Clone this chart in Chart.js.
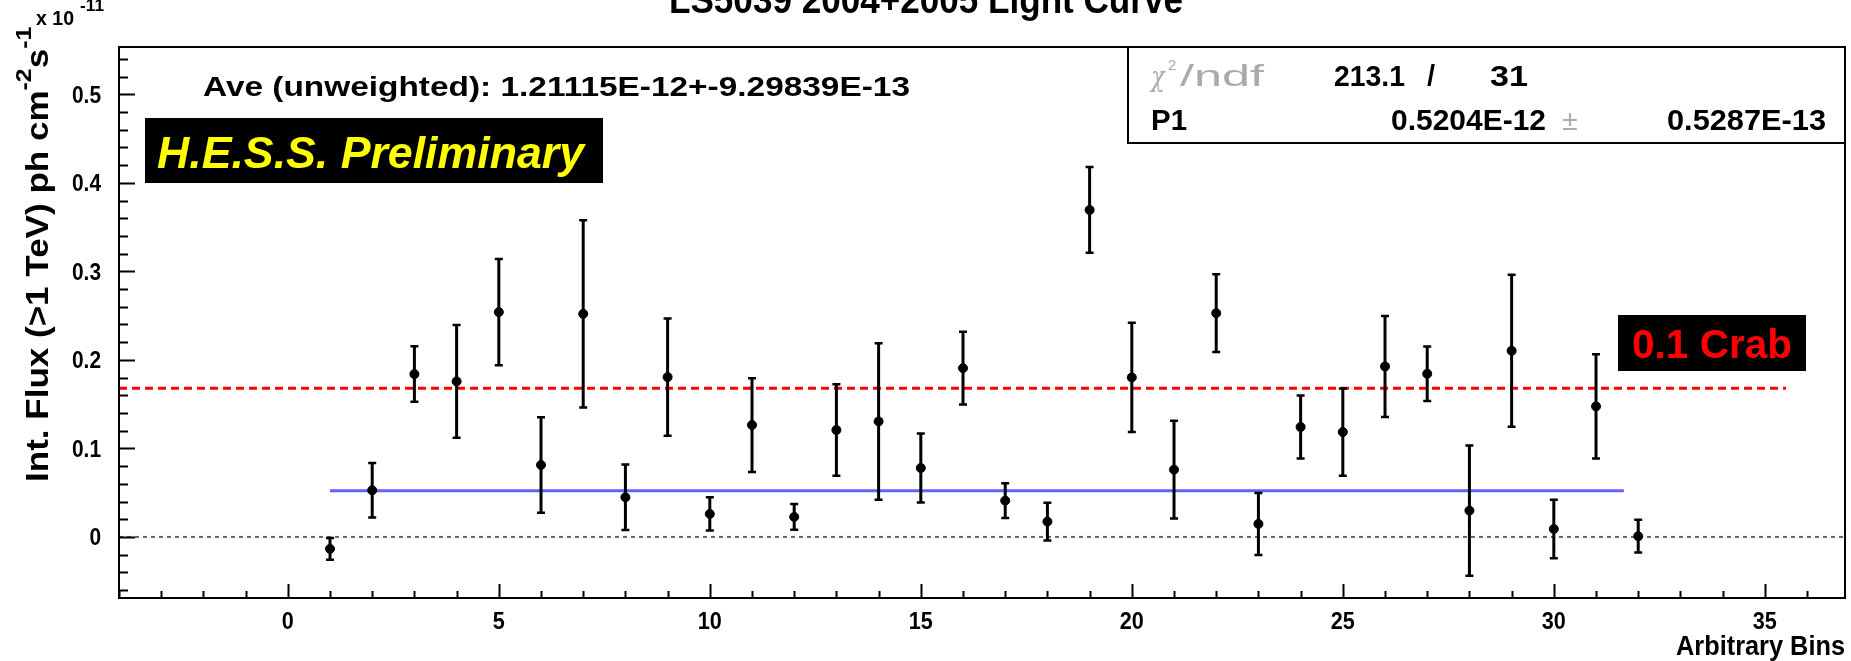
<!DOCTYPE html>
<html><head><meta charset="utf-8">
<script src="https://cdn.jsdelivr.net/npm/chart.js@4/dist/chart.umd.min.js"></script>
<style>html,body{margin:0;padding:0;background:#fff;overflow:hidden}canvas{display:block}</style>
</head><body>
<canvas id="c" width="1851" height="661"></canvas>
<script>
// ---- data (flux in units of 1e-11 ph cm^-2 s^-1) ----
const bins = [1,2,3,4,5,6,7,8,9,10,11,12,13,14,15,16,17,18,19,20,21,22,23,24,25,26,27,28,29,30,31,32];
const flux = [-0.0135,0.0527,0.184,0.1757,0.254,0.0813,0.252,0.0448,0.1806,0.026,0.1264,0.0226,0.1208,0.1305,0.0779,0.1907,0.041,0.0173,0.3694,0.1802,0.076,0.2528,0.0147,0.1242,0.1185,0.1926,0.1843,0.0297,0.2103,0.009,0.1475,0.0008];
const fluxErr = [0.0122,0.0307,0.0314,0.0636,0.060,0.054,0.1057,0.037,0.0662,0.0188,0.053,0.0145,0.0517,0.0884,0.0389,0.0412,0.0196,0.0212,0.0484,0.0617,0.0553,0.044,0.035,0.0355,0.0493,0.057,0.0308,0.0737,0.0858,0.0331,0.059,0.0185];
const xTicks = [0,5,10,15,20,25,30,35];
const yTicks = [0,0.1,0.2,0.3,0.4,0.5];
const xTickLabels = ['0','5','10','15','20','25','30','35'];
const yTickLabels = ['0','0.1','0.2','0.3','0.4','0.5'];
const xRange = [-4, 36.9];
const yRange = [-0.069, 0.5535];
const crabLevel = 0.168, crabX = [-4, 35.5];
const fitLevel = 0.05204, fitX = [1, 31.66];
const zeroX = [-4, 36.9];

const FF = '"Liberation Sans", Arial, Helvetica, sans-serif';

function drawScaled(ctx, text, x, y, font, color, align, width, sx) {
  ctx.save();
  ctx.font = font; ctx.fillStyle = color; ctx.textBaseline = 'alphabetic';
  const w = ctx.measureText(text).width;
  const s = width ? width / w : (sx || 1);
  let x0 = x;
  if (align === 'right') x0 = x - w * s;
  else if (align === 'center') x0 = x - w * s / 2;
  ctx.translate(x0, y); ctx.scale(s, 1);
  ctx.textAlign = 'left';
  ctx.fillText(text, 0, 0);
  ctx.restore();
  return w * s;
}

const decor = {
  id: 'decor',
  afterDatasetsDraw(chart) {
    const {ctx, scales:{x, y}} = chart;
    ctx.save();
    ctx.strokeStyle = '#000';
    for (let i = 0; i < bins.length; i++) {
      const px = x.getPixelForValue(bins[i]);
      const y1 = y.getPixelForValue(flux[i] - fluxErr[i]);
      const y2 = y.getPixelForValue(flux[i] + fluxErr[i]);
      ctx.lineWidth = 3;
      ctx.beginPath(); ctx.moveTo(px, y1); ctx.lineTo(px, y2); ctx.stroke();
      ctx.lineWidth = 2.5;
      ctx.beginPath();
      ctx.moveTo(px - 4, y1); ctx.lineTo(px + 4, y1);
      ctx.moveTo(px - 4, y2); ctx.lineTo(px + 4, y2);
      ctx.stroke();
    }
    ctx.restore();
  },
  afterDraw(chart) {
    const {ctx, chartArea:a, scales:{x, y}} = chart;
    ctx.save();
    // frame
    ctx.strokeStyle = '#000'; ctx.lineWidth = 2;
    ctx.strokeRect(a.left, a.top, a.right - a.left, a.bottom - a.top);
    ctx.beginPath();
    for (let v = Math.ceil(xRange[0]); v <= xRange[1]; v++) {
      const px = Math.round(x.getPixelForValue(v)) + 0.5;
      const len = (v % 5 === 0) ? 14 : 7;
      ctx.moveTo(px, a.bottom); ctx.lineTo(px, a.bottom - len);
    }
    for (let k = Math.ceil(yRange[0] / 0.02); k * 0.02 <= yRange[1]; k++) {
      const py = Math.round(y.getPixelForValue(k * 0.02)) + 0.5;
      const len = (k % 5 === 0) ? 16 : 9;
      ctx.moveTo(a.left, py); ctx.lineTo(a.left + len, py);
    }
    ctx.stroke();

    // tick labels
    const tf = 'bold 24px ' + FF;
    xTicks.forEach((v, i) => drawScaled(ctx, xTickLabels[i], x.getPixelForValue(v), 629, tf, '#000', 'center', null, 0.9));
    yTicks.forEach((v, i) => drawScaled(ctx, yTickLabels[i], a.left - 18, y.getPixelForValue(v) + 8.5, tf, '#000', 'right', null, 0.87));

    // title (partly cut at top)
    drawScaled(ctx, 'LS5039 2004+2005 Light Curve', 926, 13, 'bold 38px ' + FF, '#000', 'center', 514);

    // x 10^-11
    drawScaled(ctx, 'x 10', 36, 25, 'bold 21px ' + FF, '#000', 'left', 38);
    drawScaled(ctx, '-11', 80, 11, 'bold 17px ' + FF, '#000', 'left', 24);

    // y axis title (rotated)
    ctx.save();
    ctx.translate(48, 482);
    ctx.rotate(-Math.PI / 2);
    ctx.fillStyle = '#000'; ctx.textBaseline = 'alphabetic'; ctx.textAlign = 'left';
    const F = 31;
    const parts = [
      ['Int. Flux (>1 TeV) ph cm', F, 0],
      ['-2', Math.round(F * 0.7), -F * 0.55],
      ['s', F, 0],
      ['-1', Math.round(F * 0.7), -F * 0.55]
    ];
    let cx = 0;
    ctx.scale(1.13, 1);
    for (const [t, fs, dy] of parts) {
      ctx.font = 'bold ' + fs + 'px ' + FF;
      ctx.fillText(t, cx, dy);
      cx += ctx.measureText(t).width;
    }
    ctx.restore();

    // x axis title
    drawScaled(ctx, 'Arbitrary Bins', 1845, 655, 'bold 28px ' + FF, '#000', 'right', 169);

    // Ave text
    drawScaled(ctx, 'Ave (unweighted): 1.21115E-12+-9.29839E-13', 203, 96, 'bold 28px ' + FF, '#000', 'left', 707);

    // HESS box
    ctx.fillStyle = '#000';
    ctx.fillRect(145, 118, 458, 65);
    drawScaled(ctx, 'H.E.S.S. Preliminary', 157, 168, 'italic bold 44px ' + FF, '#ffff00', 'left', 427);

    // 0.1 Crab box
    ctx.fillStyle = '#000';
    ctx.fillRect(1618, 315, 188, 56);
    drawScaled(ctx, '0.1 Crab', 1712, 358, 'bold 40px ' + FF, '#ff0000', 'center', 160);

    // stats box
    ctx.fillStyle = '#fff';
    ctx.fillRect(1128, a.top, a.right - 1128, 96);
    ctx.strokeStyle = '#000'; ctx.lineWidth = 2;
    ctx.strokeRect(1128, a.top, a.right - 1128, 96);
    drawScaled(ctx, '\u03c7', 1151, 86, 'italic 28px "DejaVu Serif", serif', '#aaa', 'left', null, 0.8);
    drawScaled(ctx, '2', 1168, 70, '15px ' + FF, '#aaa', 'left');
    drawScaled(ctx, '/ndf', 1180, 86, '29px ' + FF, '#aaa', 'left', 84);
    drawScaled(ctx, '213.1', 1334, 86, 'bold 29px ' + FF, '#000', 'left', 71);
    drawScaled(ctx, '/', 1427, 86, 'bold 29px ' + FF, '#000', 'left');
    drawScaled(ctx, '31', 1490, 86, 'bold 29px ' + FF, '#000', 'left', 38);
    drawScaled(ctx, 'P1', 1151, 130, 'bold 29px ' + FF, '#000', 'left', 36);
    drawScaled(ctx, '0.5204E-12', 1546, 130, 'bold 29px ' + FF, '#000', 'right', 155);
    drawScaled(ctx, '\u00b1', 1570, 130, '28px ' + FF, '#aaa', 'center');
    drawScaled(ctx, '0.5287E-13', 1826, 130, 'bold 29px ' + FF, '#000', 'right', 159);
    ctx.restore();
  }
};

const ctx = document.getElementById('c').getContext('2d');
new Chart(ctx, {
  type: 'scatter',
  data: {
    datasets: [
      { label: 'flux', data: bins.map((b, i) => ({x: b, y: flux[i]})),
        backgroundColor: '#000', borderColor: '#000', pointRadius: 4.5, pointHoverRadius: 4.5, order: 0 },
      { label: 'fit', type: 'line', data: fitX.map(v => ({x: v, y: fitLevel})),
        borderColor: '#6262ff', borderWidth: 3, pointRadius: 0, fill: false, order: 2 },
      { label: 'crab', type: 'line', data: crabX.map(v => ({x: v, y: crabLevel})),
        borderColor: '#ff0000', borderWidth: 3, borderDash: [8, 5], pointRadius: 0, fill: false, order: 3 },
      { label: 'zero', type: 'line', data: zeroX.map(v => ({x: v, y: 0})),
        borderColor: '#666', borderWidth: 2, borderDash: [4, 4], pointRadius: 0, fill: false, order: 4 }
    ]
  },
  options: {
    responsive: false, devicePixelRatio: 1, animation: false,
    layout: { padding: { top: 47, right: 6, left: 0, bottom: 0 } },
    plugins: { legend: { display: false }, tooltip: { enabled: false }, title: { display: false } },
    scales: {
      x: {
        type: 'linear', min: xRange[0], max: xRange[1],
        grid: { display: false, drawTicks: false }, border: { display: false },
        afterBuildTicks: s => { s.ticks = xTicks.map(v => ({value: v})); },
        afterFit: s => { s.height = 63; },
        ticks: { display: false }
      },
      y: {
        type: 'linear', min: yRange[0], max: yRange[1],
        grid: { display: false, drawTicks: false }, border: { display: false },
        afterBuildTicks: s => { s.ticks = yTicks.map(v => ({value: v})); },
        afterFit: s => { s.width = 119; },
        ticks: { display: false }
      }
    }
  },
  plugins: [decor]
});
</script>
</body></html>
